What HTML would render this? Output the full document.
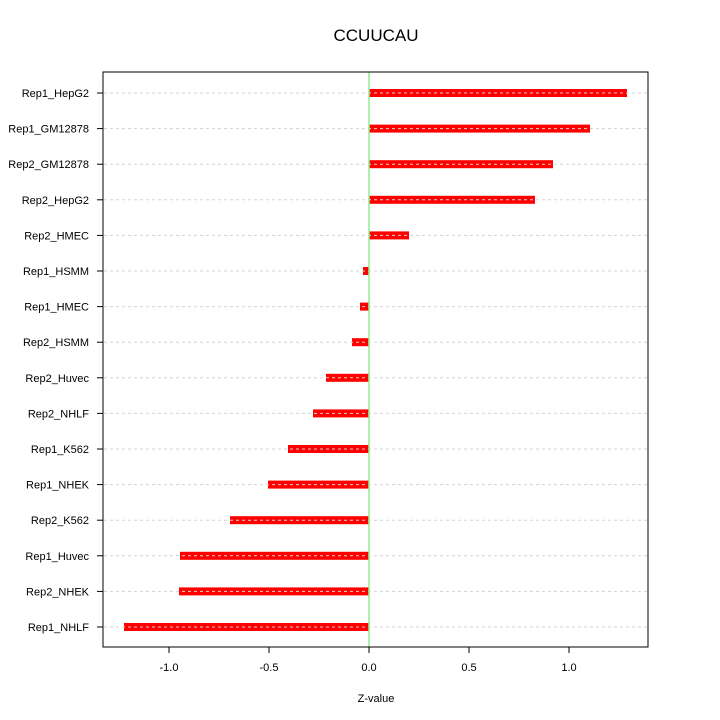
<!DOCTYPE html>
<html><head><meta charset="utf-8"><style>body{margin:0;background:#fff}svg{display:block}text{font-family:"Liberation Sans",sans-serif}</style></head>
<body>
<svg id="chart" width="720" height="720">
<text x="376" y="41" font-size="17" text-anchor="middle">CCUUCAU</text>
<g id="grid"></g><g id="bars"></g>
<line x1="369" x2="369" y1="72" y2="647" stroke="#90ee90" stroke-width="1.5"/>
<rect x="103" y="72" width="545" height="575" fill="none" stroke="#000"/>
<g id="labels"></g><g id="xticks"></g>
<text x="376" y="702" font-size="11" text-anchor="middle">Z-value</text>
</svg>
<script>
const categories=["Rep1_HepG2","Rep1_GM12878","Rep2_GM12878","Rep2_HepG2","Rep2_HMEC","Rep1_HSMM","Rep1_HMEC","Rep2_HSMM","Rep2_Huvec","Rep2_NHLF","Rep1_K562","Rep1_NHEK","Rep2_K562","Rep1_Huvec","Rep2_NHEK","Rep1_NHLF"];
const values=[1.29,1.105,0.92,0.83,0.2,-0.03,-0.045,-0.085,-0.215,-0.28,-0.405,-0.505,-0.695,-0.945,-0.95,-1.225];
const ticks=[-1,-0.5,0,0.5,1];
const tickLabels=["-1.0","-0.5","0.0","0.5","1.0"];
const ns="http://www.w3.org/2000/svg";
const xs=v=>369+v*200;
const ys=i=>93+i*35.6;
function mk(p,t,a){const e=document.createElementNS(ns,t);for(const k in a)e.setAttribute(k,a[k]);document.getElementById(p).appendChild(e);return e;}
categories.forEach((c,i)=>{
 const y=ys(i),v=values[i];
 const b=mk("bars","rect",{x:Math.min(xs(0),xs(v)),y:y-4,width:Math.abs(xs(v)-xs(0)),height:8,fill:"#ff0000"});
 
 
 const g=mk("bars","line",{x1:104,x2:647,y1:y,y2:y,stroke:"#d3d3d3","stroke-dasharray":"3,3"});
 
 
 const t=mk("labels","text",{x:89,y:y+4,"font-size":11,"text-anchor":"end"});t.textContent=c;
 
 
 const tk=mk("labels","line",{x1:97,x2:103,y1:y,y2:y,stroke:"#000"});
 
 
});
ticks.forEach((v,i)=>{
 const x=xs(v);
 const l=mk("xticks","line",{x1:x,x2:x,y1:647,y2:653,stroke:"#000"});
 
 
 const t=mk("xticks","text",{x:x,y:671,"font-size":11,"text-anchor":"middle"});t.textContent=tickLabels[i];
 
 
});
</script>
</body></html>
